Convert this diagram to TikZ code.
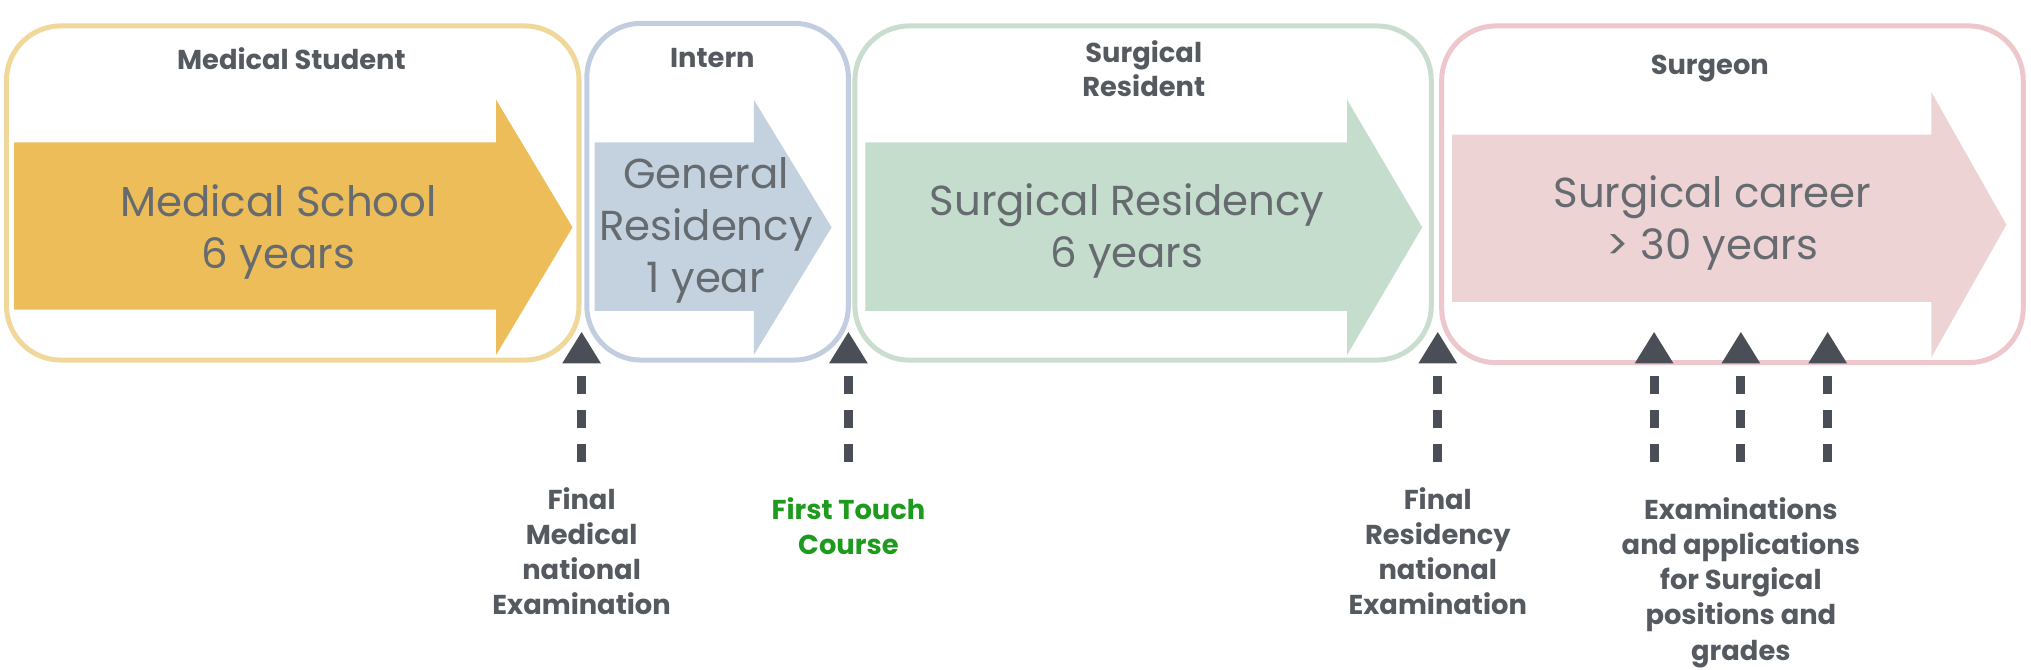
\documentclass[tikz,border=0pt]{standalone}
\usepackage{fontspec}
\setmainfont{Poppins}
\usetikzlibrary{arrows.meta}
\definecolor{tgray}{HTML}{555A60}
\definecolor{agray}{HTML}{4A4F57}
\definecolor{yel}{HTML}{EDBD5A}
\definecolor{yelL}{HTML}{EFD89A}
\definecolor{blu}{HTML}{C4D2E0}
\definecolor{bluL}{HTML}{C2CEDF}
\definecolor{grn}{HTML}{C5DDCD}
\definecolor{grnL}{HTML}{C9DECF}
\definecolor{pnk}{HTML}{EED3D5}
\definecolor{pnkL}{HTML}{EDC7CB}
\definecolor{ftgreen}{HTML}{1E9A1E}
\tikzset{
  frame/.style={rounded corners=0.42cm, line width=1.1pt},
  title/.style={font=\fontsize{6}{7.6}\selectfont\bfseries, text=tgray, align=center},
  big/.style={font=\fontsize{9.2}{11.4}\selectfont, text=tgray!90, align=center},
  lab/.style={font=\fontsize{6}{7.7}\selectfont\bfseries, text=tgray, align=center, anchor=north},
  up/.style={agray, line width=2pt, dash pattern=on 4pt off 3.5pt, -{Triangle[length=7pt,width=8pt]}}
}
\newcommand{\bigarrow}[8]{% color, xl, xb, xt, ytb, ybb, yth, ybh
  \fill[#1] (#2,#5) -- (#3,#5) -- (#3,#7) -- (#4,{(#7+#8)/2}) -- (#3,#8) -- (#3,#6) -- (#2,#6) -- cycle;}
\begin{document}
\begin{tikzpicture}[x=1cm,y=-1cm]
\useasboundingbox (0,0) rectangle (15.68,5.17);
% frames
\draw[frame, yelL] (0.05,0.20) rectangle (4.47,2.78);
\draw[frame, bluL] (4.53,0.18) rectangle (6.55,2.78);
\draw[frame, grnL] (6.60,0.20) rectangle (11.05,2.78);
\draw[frame, pnkL] (11.13,0.20) rectangle (15.62,2.80);
% big arrows
\bigarrow{yel}{0.11}{3.83}{4.42}{1.10}{2.39}{0.77}{2.74}
\bigarrow{blu}{4.59}{5.82}{6.42}{1.10}{2.40}{0.77}{2.74}
\bigarrow{grn}{6.68}{10.40}{10.98}{1.10}{2.40}{0.77}{2.74}
\bigarrow{pnk}{11.21}{14.91}{15.49}{1.04}{2.33}{0.71}{2.76}
% titles
\node[title] (t1) at (2.25,0.45) {Medical Student};
\node[title] (t2) at (5.50,0.45) {Intern};
\node[title] (t3) at (8.83,0.53) {Surgical\\Resident};
\node[title] (t4) at (13.20,0.53) {Surgeon};
% arrow texts
\node[big] (a1) at (2.15,1.79) {Medical School\\6 years};
\node[big] (a2) at (5.45,1.78) {General\\Residency\\1 year};
\node[big] (a3) at (8.70,1.78) {Surgical Residency\\6 years};
\node[big] (a4) at (13.22,1.72) {Surgical career\\> 30 years};
% marker coordinates
\foreach \n/\x in {m1/4.49, m2/6.55, m3/11.10, m4/12.77, m5/13.44, m6/14.11}{
  \coordinate (\n top) at (\x,2.56);
  \coordinate (\n bot) at (\x,3.57);
  \draw[up] (\n bot) -- (\n top);
}
% labels
\node[lab] (l1) at (4.49,3.64) {Final\\Medical\\national\\Examination};
\node[lab, text=ftgreen] (l2) at (6.55,3.72) {First Touch\\Course};
\node[lab] (l3) at (11.10,3.64) {Final\\Residency\\national\\Examination};
\node[lab] (l4) at (13.44,3.72) {Examinations\\and applications\\for Surgical\\positions and\\grades};
\end{tikzpicture}
\end{document}
